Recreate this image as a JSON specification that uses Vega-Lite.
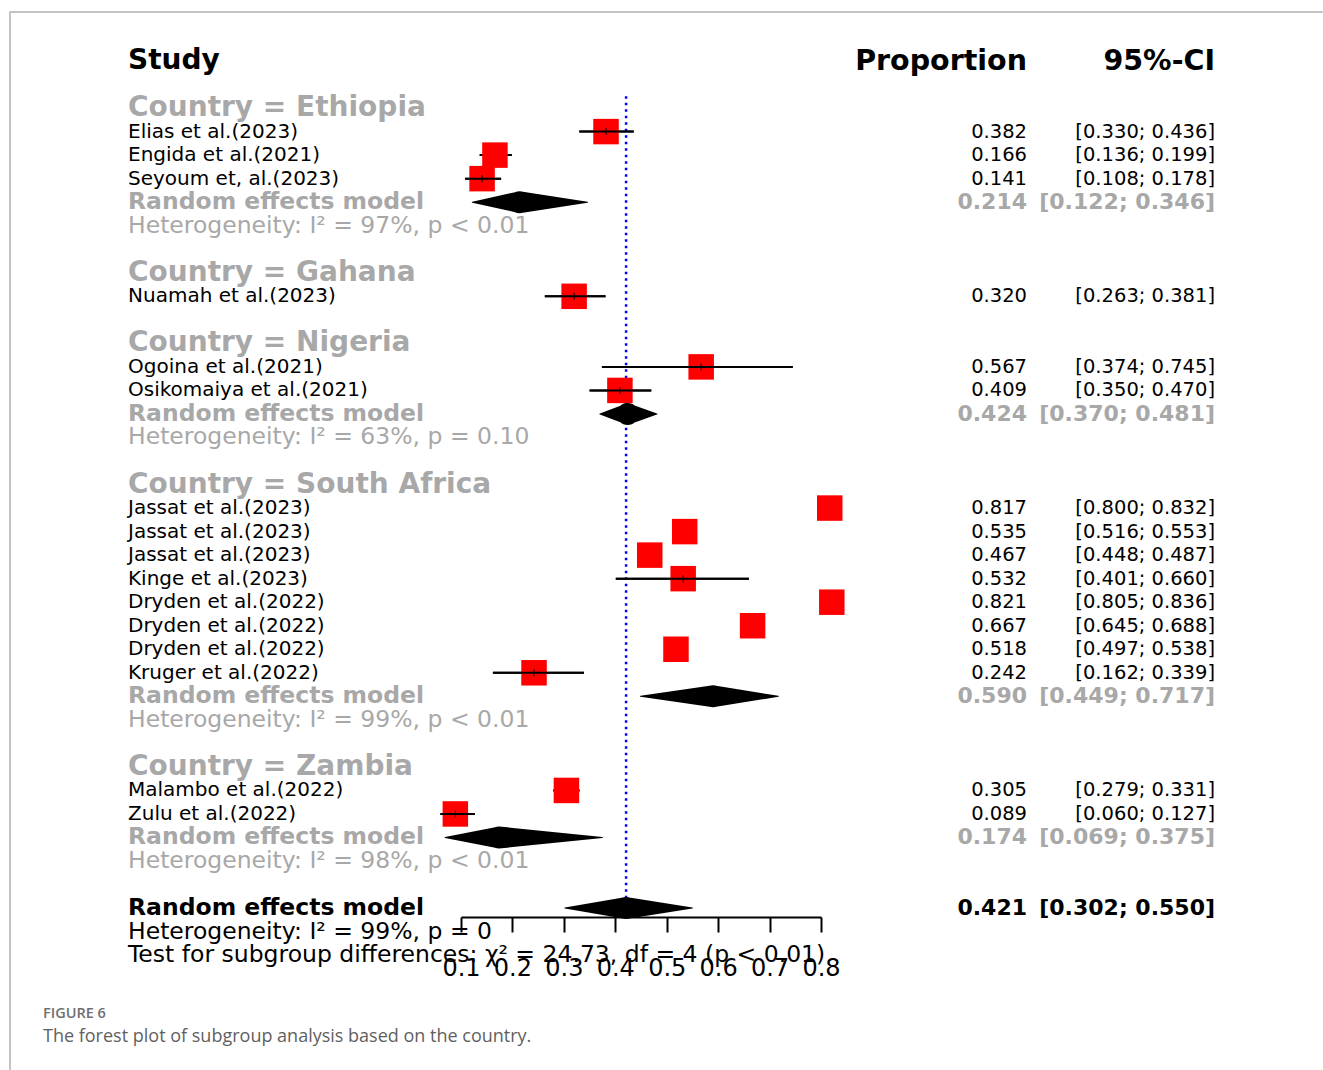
{
  "$schema": "https://vega.github.io/schema/vega-lite/v6.json",
  "padding": {"left": 8, "top": 5, "right": 0, "bottom": 0},
  "background": "white",
  "config": {
    "view": {"stroke": null},
    "font": "DejaVu Sans",
    "axisX": {"domainColor": "#000000", "domainWidth": 2, "tickColor": "#000000", "tickWidth": 2, "tickSize": 15, "labelFont": "DejaVu Sans", "labelFontSize": 24, "labelColor": "#000000", "labelPadding": 24, "grid": false, "labelFlush": false, "labelOverlap": false}
  },
  "datasets": {
    "rows": [
      {"row": 0, "kind": "header", "label": "Study", "prop": "Proportion", "ci": "95%-CI"},
      {"row": 2, "kind": "country", "label": "Country = Ethiopia"},
      {"row": 3, "kind": "study", "label": "Elias et al.(2023)", "prop": "0.382", "ci": "[0.330; 0.436]", "est": 0.382, "lo": 0.330, "hi": 0.436},
      {"row": 4, "kind": "study", "label": "Engida et al.(2021)", "prop": "0.166", "ci": "[0.136; 0.199]", "est": 0.166, "lo": 0.136, "hi": 0.199},
      {"row": 5, "kind": "study", "label": "Seyoum et, al.(2023)", "prop": "0.141", "ci": "[0.108; 0.178]", "est": 0.141, "lo": 0.108, "hi": 0.178},
      {"row": 6, "kind": "rem", "label": "Random effects model", "prop": "0.214", "ci": "[0.122; 0.346]", "est": 0.214, "lo": 0.122, "hi": 0.346},
      {"row": 7, "kind": "het", "label": "Heterogeneity: I² = 97%, p < 0.01"},
      {"row": 9, "kind": "country", "label": "Country = Gahana"},
      {"row": 10, "kind": "study", "label": "Nuamah et al.(2023)", "prop": "0.320", "ci": "[0.263; 0.381]", "est": 0.320, "lo": 0.263, "hi": 0.381},
      {"row": 12, "kind": "country", "label": "Country = Nigeria"},
      {"row": 13, "kind": "study", "label": "Ogoina et al.(2021)", "prop": "0.567", "ci": "[0.374; 0.745]", "est": 0.567, "lo": 0.374, "hi": 0.745},
      {"row": 14, "kind": "study", "label": "Osikomaiya et al.(2021)", "prop": "0.409", "ci": "[0.350; 0.470]", "est": 0.409, "lo": 0.350, "hi": 0.470},
      {"row": 15, "kind": "rem", "label": "Random effects model", "prop": "0.424", "ci": "[0.370; 0.481]", "est": 0.424, "lo": 0.370, "hi": 0.481},
      {"row": 16, "kind": "het", "label": "Heterogeneity: I² = 63%, p = 0.10"},
      {"row": 18, "kind": "country", "label": "Country = South Africa"},
      {"row": 19, "kind": "study", "label": "Jassat et al.(2023)", "prop": "0.817", "ci": "[0.800; 0.832]", "est": 0.817, "lo": 0.800, "hi": 0.832},
      {"row": 20, "kind": "study", "label": "Jassat et al.(2023)", "prop": "0.535", "ci": "[0.516; 0.553]", "est": 0.535, "lo": 0.516, "hi": 0.553},
      {"row": 21, "kind": "study", "label": "Jassat et al.(2023)", "prop": "0.467", "ci": "[0.448; 0.487]", "est": 0.467, "lo": 0.448, "hi": 0.487},
      {"row": 22, "kind": "study", "label": "Kinge et al.(2023)", "prop": "0.532", "ci": "[0.401; 0.660]", "est": 0.532, "lo": 0.401, "hi": 0.660},
      {"row": 23, "kind": "study", "label": "Dryden et al.(2022)", "prop": "0.821", "ci": "[0.805; 0.836]", "est": 0.821, "lo": 0.805, "hi": 0.836},
      {"row": 24, "kind": "study", "label": "Dryden et al.(2022)", "prop": "0.667", "ci": "[0.645; 0.688]", "est": 0.667, "lo": 0.645, "hi": 0.688},
      {"row": 25, "kind": "study", "label": "Dryden et al.(2022)", "prop": "0.518", "ci": "[0.497; 0.538]", "est": 0.518, "lo": 0.497, "hi": 0.538},
      {"row": 26, "kind": "study", "label": "Kruger et al.(2022)", "prop": "0.242", "ci": "[0.162; 0.339]", "est": 0.242, "lo": 0.162, "hi": 0.339},
      {"row": 27, "kind": "rem", "label": "Random effects model", "prop": "0.590", "ci": "[0.449; 0.717]", "est": 0.590, "lo": 0.449, "hi": 0.717},
      {"row": 28, "kind": "het", "label": "Heterogeneity: I² = 99%, p < 0.01"},
      {"row": 30, "kind": "country", "label": "Country = Zambia"},
      {"row": 31, "kind": "study", "label": "Malambo et al.(2022)", "prop": "0.305", "ci": "[0.279; 0.331]", "est": 0.305, "lo": 0.279, "hi": 0.331},
      {"row": 32, "kind": "study", "label": "Zulu et al.(2022)", "prop": "0.089", "ci": "[0.060; 0.127]", "est": 0.089, "lo": 0.060, "hi": 0.127},
      {"row": 33, "kind": "rem", "label": "Random effects model", "prop": "0.174", "ci": "[0.069; 0.375]", "est": 0.174, "lo": 0.069, "hi": 0.375},
      {"row": 34, "kind": "het", "label": "Heterogeneity: I² = 98%, p < 0.01"},
      {"row": 36, "kind": "overall", "label": "Random effects model", "prop": "0.421", "ci": "[0.302; 0.550]", "est": 0.421, "lo": 0.302, "hi": 0.550},
      {"row": 37, "kind": "ohet", "label": "Heterogeneity: I² = 99%, p = 0"},
      {"row": 38, "kind": "ohet", "label": "Test for subgroup differences: χ² = 24.73, df = 4 (p < 0.01)"}
    ],
    "diamonds": [
      {"grp": "Ethiopia", "row": 6, "x": 0.122, "vertex": "end"},
      {"grp": "Ethiopia", "row": 6, "x": 0.214, "vertex": "mid"},
      {"grp": "Ethiopia", "row": 6, "x": 0.346, "vertex": "end"},
      {"grp": "Nigeria", "row": 15, "x": 0.370, "vertex": "end"},
      {"grp": "Nigeria", "row": 15, "x": 0.424, "vertex": "mid"},
      {"grp": "Nigeria", "row": 15, "x": 0.481, "vertex": "end"},
      {"grp": "South Africa", "row": 27, "x": 0.449, "vertex": "end"},
      {"grp": "South Africa", "row": 27, "x": 0.590, "vertex": "mid"},
      {"grp": "South Africa", "row": 27, "x": 0.717, "vertex": "end"},
      {"grp": "Zambia", "row": 33, "x": 0.069, "vertex": "end"},
      {"grp": "Zambia", "row": 33, "x": 0.174, "vertex": "mid"},
      {"grp": "Zambia", "row": 33, "x": 0.375, "vertex": "end"},
      {"grp": "Overall", "row": 36, "x": 0.302, "vertex": "end"},
      {"grp": "Overall", "row": 36, "x": 0.421, "vertex": "mid"},
      {"grp": "Overall", "row": 36, "x": 0.550, "vertex": "end"}
    ]
  },
  "spacing": 0,
  "bounds": "flush",
  "hconcat": [
    {
      "width": 1, "height": 1065,
      "view": {"stroke": "#c4c4c4", "strokeWidth": 1},
      "data": {"values": [{}]},
      "mark": {"type": "text", "text": ""}
    },
    {
      "spacing": 0,
      "bounds": "flush",
      "vconcat": [
        {
          "width": 1312, "height": 1,
          "view": {"stroke": "#c4c4c4", "strokeWidth": 1},
          "data": {"values": [{}]},
          "mark": {"type": "text", "text": ""}
        },
        {
          "spacing": 0,
          "bounds": "flush",
          "title": {
            "text": "FIGURE 6",
            "subtitle": "The forest plot of subgroup analysis based on the country.",
            "orient": "bottom", "anchor": "start", "frame": "group",
            "offset": 27, "dx": 33,
            "font": "Open Sans", "fontSize": 14.5, "fontWeight": 600, "color": "#6f6f6f",
            "subtitleFont": "Open Sans", "subtitleFontSize": 18, "subtitleColor": "#5f5f5f", "subtitlePadding": 6
          },
          "hconcat": [
            {
              "width": 118, "height": 905,
              "data": {"values": [{}]},
              "mark": {"type": "text", "text": ""}
            },
            {
              "width": 333, "height": 905,
              "data": {"name": "rows"},
              "encoding": {
                "y": {"field": "row", "type": "quantitative", "scale": {"domain": [-2.0825, 36.379], "reverse": true, "nice": false, "zero": false}, "axis": null},
                "x": {"value": 0},
                "text": {"field": "label"}
              },
              "layer": [
                {"transform": [{"filter": "datum.kind === 'header'"}], "mark": {"type": "text", "align": "left", "baseline": "middle", "fontSize": 28, "fontWeight": "bold", "color": "#000000"}},
                {"transform": [{"filter": "datum.kind === 'country'"}], "mark": {"type": "text", "align": "left", "baseline": "middle", "fontSize": 28, "fontWeight": "bold", "color": "#a8a8a8"}},
                {"transform": [{"filter": "datum.kind === 'study'"}], "mark": {"type": "text", "align": "left", "baseline": "middle", "fontSize": 20, "color": "#000000"}},
                {"transform": [{"filter": "datum.kind === 'rem'"}], "mark": {"type": "text", "align": "left", "baseline": "middle", "fontSize": 23.5, "fontWeight": "bold", "color": "#a8a8a8"}},
                {"transform": [{"filter": "datum.kind === 'het'"}], "mark": {"type": "text", "align": "left", "baseline": "middle", "fontSize": 23.5, "color": "#a8a8a8"}},
                {"transform": [{"filter": "datum.kind === 'overall'"}], "mark": {"type": "text", "align": "left", "baseline": "middle", "fontSize": 23.5, "fontWeight": "bold", "color": "#000000"}},
                {"transform": [{"filter": "datum.kind === 'ohet'"}], "mark": {"type": "text", "align": "left", "baseline": "middle", "fontSize": 23.5, "color": "#000000"}}
              ]
            },
            {
              "width": 360, "height": 905,
              "encoding": {
                "y": {"field": "row", "type": "quantitative", "scale": {"domain": [-2.0825, 36.379], "reverse": true, "nice": false, "zero": false}, "axis": null}
              },
              "layer": [
                {
                  "data": {"name": "rows"},
                  "transform": [{"filter": "datum.kind === 'overall'"}],
                  "mark": {"type": "rule", "color": "#0000ff", "strokeWidth": 2.5, "strokeDash": [2.5, 4]},
                  "encoding": {
                    "x": {"field": "est", "type": "quantitative", "scale": {"domain": [0.1, 0.8], "nice": false, "zero": false}, "axis": {"values": [0.1, 0.2, 0.3, 0.4, 0.5, 0.6, 0.7, 0.8], "format": ".1f", "title": null}},
                    "y": {"datum": 1.5},
                    "y2": {"datum": 35.85}
                  }
                },
                {
                  "data": {"name": "rows"},
                  "transform": [{"filter": "datum.kind === 'study'"}],
                  "mark": {"type": "rule", "color": "#000000", "strokeWidth": 2},
                  "encoding": {
                    "x": {"field": "lo", "type": "quantitative", "scale": {"domain": [0.1, 0.8], "nice": false, "zero": false}, "axis": {"values": [0.1, 0.2, 0.3, 0.4, 0.5, 0.6, 0.7, 0.8], "format": ".1f", "title": null}},
                    "x2": {"field": "hi"}
                  }
                },
                {
                  "data": {"name": "rows"},
                  "transform": [{"filter": "datum.kind === 'study'"}],
                  "mark": {"type": "point", "shape": "square", "filled": true, "color": "#ff0000", "opacity": 1, "size": 650},
                  "encoding": {
                    "x": {"field": "est", "type": "quantitative", "scale": {"domain": [0.1, 0.8], "nice": false, "zero": false}, "axis": {"values": [0.1, 0.2, 0.3, 0.4, 0.5, 0.6, 0.7, 0.8], "format": ".1f", "title": null}}
                  }
                },
                {
                  "data": {"name": "rows"},
                  "transform": [{"filter": "datum.kind === 'study' && datum.hi - datum.lo > 0.065"}],
                  "mark": {"type": "rule", "color": "#000000", "strokeWidth": 2},
                  "encoding": {
                    "x": {"field": "lo", "type": "quantitative", "scale": {"domain": [0.1, 0.8], "nice": false, "zero": false}, "axis": {"values": [0.1, 0.2, 0.3, 0.4, 0.5, 0.6, 0.7, 0.8], "format": ".1f", "title": null}},
                    "x2": {"field": "hi"}
                  }
                },
                {
                  "data": {"name": "rows"},
                  "transform": [{"filter": "datum.kind === 'study' && datum.hi - datum.lo > 0.065"}],
                  "mark": {"type": "tick", "orient": "vertical", "color": "#000000", "size": 7, "thickness": 1.5},
                  "encoding": {
                    "x": {"field": "est", "type": "quantitative", "scale": {"domain": [0.1, 0.8], "nice": false, "zero": false}, "axis": {"values": [0.1, 0.2, 0.3, 0.4, 0.5, 0.6, 0.7, 0.8], "format": ".1f", "title": null}}
                  }
                },
                {
                  "data": {"name": "diamonds"},
                  "mark": {"type": "trail", "color": "#000000"},
                  "encoding": {
                    "x": {"field": "x", "type": "quantitative", "scale": {"domain": [0.1, 0.8], "nice": false, "zero": false}, "axis": {"values": [0.1, 0.2, 0.3, 0.4, 0.5, 0.6, 0.7, 0.8], "format": ".1f", "title": null}},
                    "detail": {"field": "grp"},
                    "order": {"field": "x", "type": "quantitative"},
                    "size": {"field": "vertex", "type": "ordinal", "scale": {"domain": ["end", "mid"], "range": [0, 22]}, "legend": null}
                  }
                }
              ]
            },
            {
              "width": 206, "height": 905,
              "data": {"name": "rows"},
              "encoding": {
                "y": {"field": "row", "type": "quantitative", "scale": {"domain": [-2.0825, 36.379], "reverse": true, "nice": false, "zero": false}, "axis": null},
                "x": {"value": "width"},
                "text": {"field": "prop"}
              },
              "layer": [
                {"transform": [{"filter": "datum.kind === 'header'"}], "mark": {"type": "text", "align": "right", "baseline": "middle", "fontSize": 28.5, "fontWeight": "bold", "color": "#000000"}},
                {"transform": [{"filter": "datum.kind === 'study'"}], "mark": {"type": "text", "align": "right", "baseline": "middle", "fontSize": 19.5, "color": "#000000"}},
                {"transform": [{"filter": "datum.kind === 'rem'"}], "mark": {"type": "text", "align": "right", "baseline": "middle", "fontSize": 22, "fontWeight": "bold", "color": "#a8a8a8"}},
                {"transform": [{"filter": "datum.kind === 'overall'"}], "mark": {"type": "text", "align": "right", "baseline": "middle", "fontSize": 22, "fontWeight": "bold", "color": "#000000"}}
              ]
            },
            {
              "width": 188, "height": 905,
              "data": {"name": "rows"},
              "encoding": {
                "y": {"field": "row", "type": "quantitative", "scale": {"domain": [-2.0825, 36.379], "reverse": true, "nice": false, "zero": false}, "axis": null},
                "x": {"value": "width"},
                "text": {"field": "ci"}
              },
              "layer": [
                {"transform": [{"filter": "datum.kind === 'header'"}], "mark": {"type": "text", "align": "right", "baseline": "middle", "fontSize": 28.5, "fontWeight": "bold", "color": "#000000"}},
                {"transform": [{"filter": "datum.kind === 'study'"}], "mark": {"type": "text", "align": "right", "baseline": "middle", "fontSize": 19.5, "color": "#000000"}},
                {"transform": [{"filter": "datum.kind === 'rem'"}], "mark": {"type": "text", "align": "right", "baseline": "middle", "fontSize": 22, "fontWeight": "bold", "color": "#a8a8a8"}},
                {"transform": [{"filter": "datum.kind === 'overall'"}], "mark": {"type": "text", "align": "right", "baseline": "middle", "fontSize": 22, "fontWeight": "bold", "color": "#000000"}}
              ]
            }
          ]
        }
      ]
    }
  ]
}
